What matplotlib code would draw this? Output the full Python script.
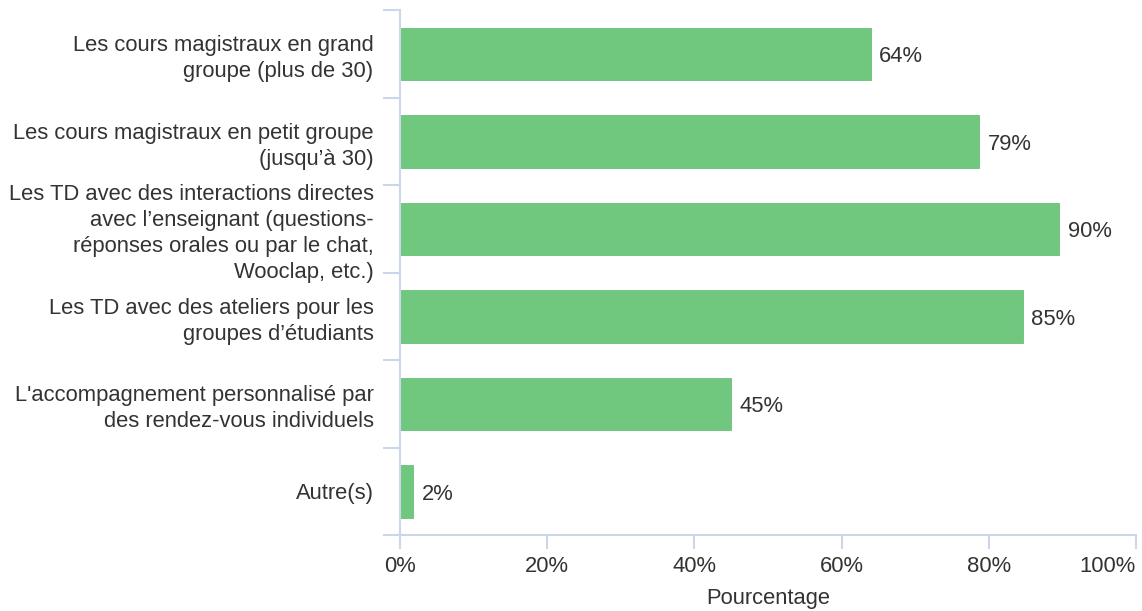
import matplotlib
matplotlib.use('Agg')
import matplotlib.pyplot as plt
import numpy as np

categories = [
    "Les cours magistraux en grand\ngroupe (plus de 30)",
    "Les cours magistraux en petit groupe\n(jusqu\u2019\u00e0 30)",
    "Les TD avec des interactions directes\navec l\u2019enseignant (questions-\nr\u00e9ponses orales ou par le chat,\nWooclap, etc.)",
    "Les TD avec des ateliers pour les\ngroupes d\u2019\u00e9tudiants",
    "L'accompagnement personnalis\u00e9 par\ndes rendez-vous individuels",
    "Autre(s)",
]
values = [64.0, 78.7, 89.6, 84.6, 45.0, 1.8]
xticks = [0, 20, 40, 60, 80, 100]

plt.rcParams['font.family'] = ['Liberation Sans', 'DejaVu Sans']
text_color = '#333333'
axis_color = '#ccd6eb'
bar_color = '#70c87e'
fs = 15.8

fig = plt.figure(figsize=(11.42, 6.11), dpi=100)
ax = fig.add_axes([400 / 1142, 1 - 535 / 611, 736 / 1142, 525 / 611])

n = len(categories)
y = np.arange(n)
ax.barh(y, values, height=0.6, color=bar_color, edgecolor='#6cbf79', linewidth=0.6, zorder=2)
for yi, v in zip(y, values):
    ax.annotate(f"{v:.0f}%", (v, yi), xytext=(6, -2), textcoords='offset points',
                va='center', ha='left', fontsize=fs, color=text_color)

ax.set_xlim(0, 100)
ax.set_ylim(n - 0.5, -0.5)

for s in ['top', 'right']:
    ax.spines[s].set_visible(False)
for s in ['left', 'bottom']:
    ax.spines[s].set_color(axis_color)
    ax.spines[s].set_linewidth(1.5)

ax.set_yticks(np.arange(-0.5, n, 1))
ax.set_yticklabels([])
ax.tick_params(axis='y', which='major', length=12, width=1.5, color=axis_color)
ax.set_yticks(y, minor=True)
ax.set_yticklabels(categories, minor=True, fontsize=fs, color=text_color, linespacing=1.3)
ax.tick_params(axis='y', which='minor', length=0, pad=19)

ax.set_xticks(xticks)
ax.set_xticklabels([f"{t}%" for t in xticks], fontsize=fs, color=text_color)
ax.get_xticklabels()[-1].set_horizontalalignment('right')
ax.tick_params(axis='x', length=10, width=1.5, color=axis_color, pad=5)
ax.set_xlabel("Pourcentage", fontsize=fs, color=text_color, labelpad=8)

fig.savefig('out.png', dpi=100)
